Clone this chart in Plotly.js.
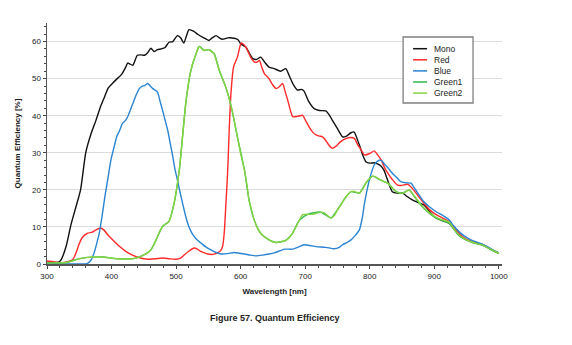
<!DOCTYPE html>
<html>
<head>
<meta charset="utf-8">
<script src="https://cdn.plot.ly/plotly-3.0.1.min.js"></script>
<style>html,body{margin:0;padding:0;background:#fff;}#chart{width:572px;height:345px;}</style>
</head>
<body>
<div id="chart"></div>
<script>
const seriesNames = ["Mono", "Red", "Blue", "Green1", "Green2"];

const monoX = [300,310,318,322,330,337,345,352,356,360,368,376,383,389,395,402,410,415,422,425,428,433,440,446,451,456,461,466,471,477,483,489,495,502,507,512,516,520,527,534,543,551,556,562,567,572,580,590,596,600,608,613,619,625,631,637,644,652,662,670,676,682,688,694,698,705,714,722,732,737,742,750,758,764,771,776,780,784,790,794,800,807,812,817,822,828,835,843,851,858,866,875,884,890,897,903,912,923,930,938,947,957,966,975,985,993,1000];
const monoY = [0.5,0.4,0.5,1.2,5,10.5,15.5,20,25,30,35,38.8,42.5,45,47.5,48.8,50.2,51,53.1,54.2,54,53.6,56.3,56.4,56.3,57,58.2,57.3,57.8,58,58.4,59.8,60,61.6,61,59.6,61.5,63.2,62.8,61.9,61,60.3,61,61.6,61,60.6,61,60.9,60.5,59.4,58.5,57,55.4,55.2,55.8,54.5,53.1,52.7,52,52.7,50.5,48.3,46.9,47.1,46.7,44,41.9,41.4,41.3,40.3,38.8,36.5,34.3,34.5,35.4,35.6,34,32.1,29,27.6,27.2,27.3,27,26.5,25.3,22.5,19.5,19.1,19.1,18.2,17.3,16.6,15.9,14.8,13.3,12.4,11.7,11,9.6,7.9,6.8,6.1,5.6,5.2,4.3,3.5,3.0];

const redX = [300,310,322,332,340,345,350,355,363,370,376,383,388,394,400,407,414,422,430,438,448,458,468,479,490,500,507,513,520,528,533,538,544,549,557,564,569,572,574.6,577,580,582.3,585,589,595,598,601,605,609,613,617,621,625,629,633,637,644,649,655,660,665,669,673,677,681,688,696,701,706,712,717,722,727,731,735,742,748,755,763,770,776,782,787,792,800,807,812,818,823,828,835,843,850,859,866,875,884,893,903,913,923,930,938,947,957,966,975,985,993,1000];
const redY = [0.8,0.6,0.3,0.6,1.2,3,5.5,7.2,8.3,8.6,9.2,9.7,9.2,7.9,6.8,5.6,4.5,3.4,2.6,2.0,1.5,1.3,1.4,1.6,1.4,1.3,1.6,2.5,3.5,4.3,4.0,3.4,3.0,2.7,2.6,3.0,3.6,4.7,8.3,15.5,25.3,36.1,46,53.1,55.8,58,59.6,59.2,58.2,56.7,55.3,54.5,54.4,54.9,53,51.3,50,48.5,47.3,47.8,48.7,46.5,44.2,41.5,39.7,39.8,40.1,38.6,37,35.5,34.8,34.5,34.3,33.5,32.5,31.2,31.8,33,33.8,34.1,33.9,32,30.7,29.4,29.8,30.5,29.5,28,26,24.5,22.8,21.3,21.2,21.5,20.4,18.4,16.4,14.6,13.3,12.4,11.5,10,8.3,7.0,6.1,5.6,5.2,4.3,3.5,2.9];

const blueX = [300,320,340,355,362,368,373,377,381,386,390,394,399,404,408,412,417,422,425,429,433,438,443,448,452,456,460,464,471,475,479,483,487,491,495,498,502,506,510,514,518,522,526,532,539,546,554,562,570,580,590,598,606,615,624,634,644,652,660,668,680,690,698,707,717,732,745,752,758,765,771,778,784,788,792,796,800,807,811,815,819,822,829,835,842,848,856,864,870,877,884,892,903,913,923,930,938,947,957,966,975,985,993,1000];
const blueY = [0,0,0,0,0.1,1,3,5.5,8.3,13.7,18.5,22.7,28,31.6,34.3,35.8,37.9,38.8,39.7,41.5,43.3,45.5,47.3,48,48.2,48.7,48,47.3,46.4,44,41.5,38.8,36.1,32.5,28.9,25.8,22.7,19.5,16.4,13.5,11,9.2,7.9,6.6,5.6,4.6,3.8,3.1,2.7,2.8,3.1,2.9,2.7,2.4,2.2,2.4,2.7,3.0,3.5,4.0,4.0,4.6,5.2,5.0,4.7,4.5,4.1,4.4,5.2,5.8,6.5,7.8,9.2,12,16.4,20,23,26.7,27.6,28,27.8,27.1,25.8,24.5,23.3,22.2,21.9,21.8,20.3,18.5,16.8,15.5,14.1,13.1,11.9,10.3,8.8,7.5,6.5,5.9,5.3,4.4,3.6,3.0];

const green1X = [300,330,347,363,386,410,438,451,461,469,479,489,497,505,515,523,531,536,544,551,559,567,577,585,595,606,613,621,631,644,655,670,680,691,704,724,740,750,760,771,784,794,805,815,828,841,851,861,872,884,903,923,938,957,975,993,1000];
const green1Y = [0.3,0.4,1.3,1.8,1.9,1.4,1.6,2.5,3.8,6.5,10.1,11.5,16.4,25.3,43.3,52.2,56.7,58.7,57.6,57.8,56.7,52.2,47.7,42.8,34.3,25.3,17.3,11.9,8.3,6.5,5.8,6.4,8.2,11.8,13.4,14,12.4,14.6,17.3,19.5,19.1,21.8,23.7,22.8,21.8,19.5,19.1,20,17.5,15.0,12.4,11.0,7.7,5.9,5.0,3.4,2.9];

const green2X = [300,315,330,337,347,355,363,375,386,399,410,422,430,438,445,451,456,461,465,469,474,479,484,489,493,497,501,505,510,515,519,523,527,531,534,536,540,544,548,551,555,559,563,567,572,577,581,585,590,595,600,606,610,613,617,621,626,631,638,644,650,655,662,670,675,680,686,691,696,704,712,718,724,730,735,740,745,750,755,760,765,771,776,780,784,789,794,799,805,810,815,821,828,834,841,846,851,856,861,866,872,878,884,893,903,913,923,930,938,947,957,966,975,985,993,1000];
const green2Y = [0.3,0.3,0.4,0.7,1.3,1.6,1.8,1.9,1.9,1.6,1.4,1.3,1.4,1.6,2.0,2.5,3.0,3.8,5.0,6.5,8.5,10.1,10.8,11.5,13.5,16.4,20.5,25.3,34.3,43.3,48.5,52.2,54.8,56.7,58.3,58.7,58.0,57.6,57.8,57.8,57.3,56.7,54.5,52.2,50,47.7,45.5,42.8,38.8,34.3,29.8,25.3,21,17.3,14.5,11.9,9.8,8.3,7.2,6.5,6.0,5.8,6.0,6.4,7.0,8.2,10.1,11.8,13.3,13.4,13.4,13.7,14,13.8,13.0,12.4,13,14.6,15.8,17.3,18.5,19.5,19.6,19.3,19.1,20.2,21.8,23,23.7,23.4,22.8,22.3,21.8,20.7,19.5,19.2,19.1,19.5,20,19.1,17.7,16.3,15.1,13.8,12.6,11.9,11.3,9.6,7.9,6.8,6.0,5.5,5.1,4.2,3.5,2.9];

const xTickVals = [300,400,500,600,700,800,900,1000];
const yTickVals = [0,10,20,30,40,50,60];
const xTitle = "Wavelength [nm]";
const yTitle = "Quantum Efficiency [%]";
const caption = "Figure 57. Quantum Efficiency";

const colors = ["#111111", "#ff2a2a", "#2a84d2", "#2db84d", "#86d442"];
const xs = [monoX, redX, blueX, green1X, green2X];
const ys = [monoY, redY, blueY, green1Y, green2Y];

const traces = seriesNames.map((n, i) => ({
  type: "scatter", mode: "lines", name: n, x: xs[i], y: ys[i],
  line: {color: colors[i], width: 1.4, shape: "spline", smoothing: 0.6},
  hoverinfo: "skip", showlegend: false
}));

const font = {family: "Liberation Sans, Arial, Helvetica, sans-serif", color: "#222"};

// plot area geometry (pixels) used to place the hand-drawn legend box
const M = {l: 46.5, r: 70, t: 23, b: 81};
const PW = 572 - M.l - M.r, PH = 345 - M.t - M.b;
const px = v => (v - M.l) / PW;
const py = v => (345 - M.b - v) / PH;

const shapes = [{
  type: "rect", xref: "paper", yref: "paper",
  x0: px(403), x1: px(473), y0: py(103), y1: py(37),
  line: {color: "#808080", width: 1.3}, fillcolor: "#ffffff", layer: "above"
}];
const annotations = [];
seriesNames.forEach((n, i) => {
  const rowY = 48.7 + 11.1 * i;
  shapes.push({
    type: "line", xref: "paper", yref: "paper",
    x0: px(413), x1: px(427), y0: py(rowY), y1: py(rowY),
    line: {color: colors[i], width: 1.5}, layer: "above"
  });
  annotations.push({
    text: n, xref: "paper", yref: "paper", x: px(432), y: py(rowY),
    xanchor: "left", yanchor: "middle", showarrow: false,
    font: Object.assign({size: 8.5}, font)
  });
});
annotations.push({
  text: "<b>" + caption + "</b>", xref: "paper", yref: "paper",
  x: 0.5, y: py(318), xanchor: "center", yanchor: "middle", showarrow: false,
  font: Object.assign({size: 9}, font)
});

const layout = {
  width: 572, height: 345,
  margin: {l: M.l, r: M.r, t: M.t, b: M.b, pad: 0},
  paper_bgcolor: "#fff", plot_bgcolor: "#fff",
  font: Object.assign({size: 8}, font),
  showlegend: false,
  xaxis: {
    range: [300, 1005], tickvals: xTickVals, ticktext: xTickVals.map(String),
    showgrid: false, zeroline: false,
    showline: true, linecolor: "#555", linewidth: 2,
    ticks: "outside", ticklen: 3, tickcolor: "#444", tickwidth: 1,
    minor: {dtick: 20, ticks: "outside", ticklen: 2, tickcolor: "#444", showgrid: false},
    tickfont: Object.assign({size: 8}, font),
    title: {text: "<b>" + xTitle + "</b>", font: Object.assign({size: 8}, font), standoff: 9}
  },
  yaxis: {
    range: [0, 65], tickvals: yTickVals, ticktext: yTickVals.map(String),
    showgrid: true, gridcolor: "#dcdcdc", gridwidth: 1, zeroline: false,
    showline: true, linecolor: "#555", linewidth: 1.5,
    ticks: "outside", ticklen: 3, tickcolor: "#444", tickwidth: 1,
    minor: {dtick: 2, ticks: "outside", ticklen: 2, tickcolor: "#444", showgrid: false},
    tickfont: Object.assign({size: 8}, font),
    title: {text: "<b>" + yTitle + "</b>", font: Object.assign({size: 8}, font), standoff: 10}
  },
  shapes: shapes,
  annotations: annotations
};

Plotly.newPlot("chart", traces, layout, {displayModeBar: false, staticPlot: true});
</script>
</body>
</html>
